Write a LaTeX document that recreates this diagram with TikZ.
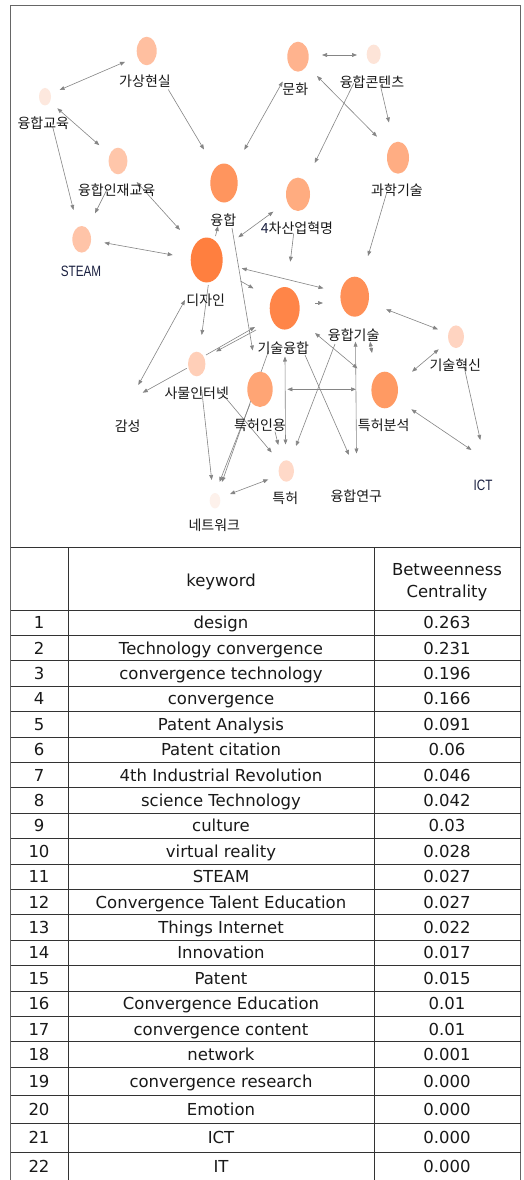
\documentclass[tikz,border=0pt]{standalone}
\usepackage{fontspec}
\usetikzlibrary{shapes.geometric,arrows.meta}
\newfontfamily\kr{Noto Sans CJK KR}
\newfontfamily\tb{DejaVu Sans}
\newfontfamily\lat{Liberation Sans}
\definecolor{edgec}{HTML}{858585}
\definecolor{gridc}{HTML}{333333}
\definecolor{navyt}{HTML}{1A2040}
\definecolor{cA}{HTML}{FF7F3F}
\definecolor{cB}{HTML}{FF8548}
\definecolor{cC}{HTML}{FF9057}
\definecolor{cD}{HTML}{FF955E}
\definecolor{cE}{HTML}{FF9A63}
\definecolor{cF}{HTML}{FFA575}
\definecolor{cG}{HTML}{FFAC80}
\definecolor{cH}{HTML}{FFAD83}
\definecolor{cI}{HTML}{FFB38E}
\definecolor{cJ}{HTML}{FFBFA0}
\definecolor{cK}{HTML}{FFC4A8}
\definecolor{cL}{HTML}{FFC6AA}
\definecolor{cM}{HTML}{FFCFB8}
\definecolor{cN}{HTML}{FFD4C1}
\definecolor{cO}{HTML}{FFD9C8}
\definecolor{cP}{HTML}{FDE8DE}
\definecolor{cQ}{HTML}{FDE4D8}
\definecolor{cR}{HTML}{FDF1EB}
\begin{document}
\begin{tikzpicture}[x=1pt,y=-1pt,
  nd/.style={ellipse,inner sep=0pt,draw=none},
  kl/.style={font=\kr\fontsize{14}{14}\selectfont,inner sep=0pt,text=black!90},
  nl/.style={font=\lat\fontsize{15}{15}\selectfont,inner sep=0pt,text=navyt},
  el/.style={draw=edgec,line width=0.6pt},
  two/.style={el,{Triangle[length=5pt,width=3.8pt]}-{Triangle[length=5pt,width=3.8pt]}},
  one/.style={el,-{Triangle[length=5pt,width=3.8pt]}},
  tt/.style={font=\tb\fontsize{16.5}{20}\selectfont,inner sep=0pt,text=black!90,anchor=base},
  gl/.style={draw=gridc,line width=0.8pt}]
\useasboundingbox (0,0) rectangle (523,1180);
\fill[white] (0,0) rectangle (523,1180);

% ---------- edge end points ----------
\coordinate (a1) at (125,61.8);   \coordinate (a2) at (59.5,90);
\coordinate (b1) at (168.3,89.5); \coordinate (b2) at (204,149.5);
\coordinate (c1) at (57.3,108.3); \coordinate (c2) at (99.3,145.2);
\coordinate (d1) at (52.7,127);   \coordinate (d2) at (73.5,210);
\coordinate (e1) at (106.7,190);  \coordinate (e2) at (95,213.3);
\coordinate (f1) at (136.7,182);  \coordinate (f2) at (180,230);
\coordinate (g1) at (104.3,242.7);\coordinate (g2) at (172.7,255);
\coordinate (h1) at (244.3,149.8);\coordinate (h2) at (282.7,81.5);
\coordinate (i1) at (322,55);     \coordinate (i2) at (357,55);
\coordinate (j1) at (317,76);     \coordinate (j2) at (377,136.7);
\coordinate (k1) at (353.7,83.3); \coordinate (k2) at (314.7,163);
\coordinate (l1) at (380.3,85);   \coordinate (l2) at (389,122.5);
\coordinate (m1) at (387,191.7);  \coordinate (m2) at (368,256);
\coordinate (n1) at (273.3,211.7);\coordinate (n2) at (238.3,237.3);
\coordinate (o1) at (293.7,233.3);\coordinate (o2) at (290.3,261.7);
\coordinate (p1) at (215.5,236);  \coordinate (p2) at (218,226);
\coordinate (q1) at (241.7,268.3);\coordinate (q2) at (323.5,288.3);
\coordinate (r1) at (240.5,281);  \coordinate (r2) at (253.5,288.5);
\coordinate (s1) at (232,228);    \coordinate (s2) at (252.7,350.5);
\coordinate (t1) at (208.3,285);  \coordinate (t2) at (201.7,335);
\coordinate (u1) at (185,300);    \coordinate (u2) at (138.3,385);
\coordinate (v1) at (186.7,368.3);\coordinate (v2) at (142.7,392.7);
\coordinate (w1) at (206,355);    \coordinate (w2) at (255,327);
\coordinate (w3) at (256,330);    \coordinate (w4) at (216,351.5);
\coordinate (x1) at (201.7,390);  \coordinate (x2) at (211.7,480);
\coordinate (y1) at (219,390);    \coordinate (y2) at (271.7,452.5);
\coordinate (z1) at (268.5,351);  \coordinate (z2) at (222,482);
\coordinate (z3) at (250,404);    \coordinate (z4) at (219.5,482);
\coordinate (aa1) at (230,494);   \coordinate (aa2) at (268.3,479.5);
\coordinate (bb1) at (285,356.5); \coordinate (bb2) at (285.5,444.5);
\coordinate (cc1) at (287.3,389.3);\coordinate (cc2) at (356,389.3);
\coordinate (dd1) at (355.5,341.7);\coordinate (dd2) at (356.5,453.5);
\coordinate (ee1) at (305,355);   \coordinate (ee2) at (349,455);
\coordinate (ff1) at (335,344);   \coordinate (ff2) at (296,446);
\coordinate (gg1) at (315,333);   \coordinate (gg2) at (357.5,368.5);
\coordinate (hh1) at (370,341.5); \coordinate (hh2) at (372,353);
\coordinate (ii1) at (315,303);   \coordinate (ii2) at (323,303);
\coordinate (jj1) at (386,309.3); \coordinate (jj2) at (438,329.3);
\coordinate (kk1) at (412,371.7); \coordinate (kk2) at (438.7,349.3);
\coordinate (ll1) at (463.7,365); \coordinate (ll2) at (480.3,440);
\coordinate (mm1) at (411.3,409.3);\coordinate (mm2) at (471.5,450);
\coordinate (nn1) at (275,431.7); \coordinate (nn2) at (278.3,445);

% ---------- edges ----------
\draw[two] (a1) -- (a2);
\draw[one] (b1) -- (b2);
\draw[two] (c1) -- (c2);
\draw[one] (d1) -- (d2);
\draw[one] (e1) -- (e2);
\draw[two] (f1) -- (f2);
\draw[two] (g1) -- (g2);
\draw[two] (h1) -- (h2);
\draw[two] (i1) -- (i2);
\draw[two] (j1) -- (j2);
\draw[one] (k1) -- (k2);
\draw[one] (l1) -- (l2);
\draw[one] (m1) -- (m2);
\draw[two] (n1) -- (n2);
\draw[one] (o1) -- (o2);
\draw[one] (p1) -- (p2);
\draw[two] (q1) -- (q2);
\draw[one] (r1) -- (r2);
\draw[one] (s1) -- (s2);
\draw[one] (t1) -- (t2);
\draw[two] (u1) -- (u2);
\draw[one] (v1) -- (v2);
\draw[one] (w1) -- (w2);
\draw[one] (w3) -- (w4);
\draw[one] (x1) -- (x2);
\draw[one] (y1) -- (y2);
\draw[one] (z1) -- (z2);
\draw[one] (z3) -- (z4);
\draw[two] (aa1) -- (aa2);
\draw[two] (bb1) -- (bb2);
\draw[two] (cc1) -- (cc2);
\draw[two] (dd1) -- (dd2);
\draw[one] (ee1) -- (ee2);
\draw[one] (ff1) -- (ff2);
\draw[two] (gg1) -- (gg2);
\draw[two] (hh1) -- (hh2);
\draw[one] (ii1) -- (ii2);
\draw[two] (jj1) -- (jj2);
\draw[two] (kk1) -- (kk2);
\draw[one] (ll1) -- (ll2);
\draw[two] (mm1) -- (mm2);
\draw[one] (nn1) -- (nn2);

% ---------- nodes ----------
\node[nd,fill=cJ,minimum width=20pt,minimum height=28.5pt] (vr) at (146.7,51) {};
\node[nd,fill=cP,minimum width=12pt,minimum height=17.4pt] (ce) at (45,96.7) {};
\node[nd,fill=cL,minimum width=18.7pt,minimum height=26.6pt] (cte) at (118,161) {};
\node[nd,fill=cK,minimum width=18.7pt,minimum height=26.6pt] (steam) at (81.7,239.3) {};
\node[nd,fill=cD,minimum width=27.4pt,minimum height=39pt] (conv) at (224,183) {};
\node[nd,fill=cA,minimum width=32pt,minimum height=45pt] (design) at (206.7,260) {};
\node[nd,fill=cI,minimum width=21.4pt,minimum height=30pt] (cult) at (298,56.7) {};
\node[nd,fill=cQ,minimum width=14pt,minimum height=19.4pt] (ccon) at (373.7,54.3) {};
\node[nd,fill=cH,minimum width=22pt,minimum height=32pt] (sci) at (398,157.7) {};
\node[nd,fill=cG,minimum width=24pt,minimum height=33.4pt] (ir4) at (298,194.3) {};
\node[nd,fill=cB,minimum width=30pt,minimum height=42.6pt] (tc) at (284.7,308.3) {};
\node[nd,fill=cC,minimum width=28.6pt,minimum height=40pt] (ct) at (354.7,296.7) {};
\node[nd,fill=cN,minimum width=16pt,minimum height=22.6pt] (inno) at (456,336.7) {};
\node[nd,fill=cM,minimum width=17.4pt,minimum height=24.6pt] (iot) at (196.7,364) {};
\node[nd,fill=cF,minimum width=25.4pt,minimum height=35.4pt] (pcit) at (260,389.3) {};
\node[nd,fill=cE,minimum width=26.6pt,minimum height=36.6pt] (pana) at (384.7,390) {};
\node[nd,minimum width=10pt,minimum height=10pt] (emo) at (130,395) {};
\node[nd,fill=cO,minimum width=15.4pt,minimum height=21.4pt] (pat) at (286.3,471) {};
\node[nd,minimum width=10pt,minimum height=10pt] (cres) at (354,465) {};
\node[nd,fill=cR,minimum width=10.6pt,minimum height=15.4pt] (net) at (215,500.7) {};
\node[nd,minimum width=10pt,minimum height=10pt] (ict) at (478,455) {};

% ---------- labels ----------
\node[kl] (vrL) at (145,81.7) {가상현실};
\node[kl] (ceL) at (43.3,123.3) {융합교육};
\node[kl] (cteL) at (116.7,190.7) {융합인재교육};
\node[nl] (steamL) at (81,271) {\scalebox{0.78}[1]{STEAM}};
\node[kl] (convL) at (223.3,220) {융합};
\node[kl] (designL) at (205.7,300) {디자인};
\node[kl] (cultL) at (295.3,89.3) {문화};
\node[kl] (cconL) at (372,81.7) {융합콘텐츠};
\node[kl] (sciL) at (397,190.7) {과학기술};
\node[kl] (ir4L) at (297,228.3) {\textcolor{navyt}{4}차산업혁명};
\node[kl] (tcL) at (283.3,348.3) {기술융합};
\node[kl] (ctL) at (353.7,335) {융합기술};
\node[kl] (innoL) at (455.3,365) {기술혁신};
\node[kl] (iotL) at (196.7,393.3) {사물인터넷};
\node[kl] (pcitL) at (260,425) {특허인용};
\node[kl] (panaL) at (383.7,425) {특허분석};
\node[kl] (emoL) at (127.7,426) {감성};
\node[kl] (patL) at (285.3,498.3) {특허};
\node[kl] (cresL) at (356.3,496.7) {융합연구};
\node[kl] (netL) at (214.3,525) {네트워크};
\node[nl] (ictL) at (483,485.7) {\scalebox{0.78}[1]{ICT}};

% ---------- frame and table ----------
\draw[draw=black!60,line width=0.9pt] (10.5,1180) -- (10.5,5) -- (520.5,5) -- (520.5,1180);
\draw[gl] (10.5,547) -- (520.5,547);
\draw[gl] (68,547) -- (68,1180);
\draw[gl] (374,547) -- (374,1180);
\draw[gl] (10.5,610) -- (520.5,610);
\foreach \k in {1,...,18} {\draw[gl] (10.5,610+25.4*\k) -- (520.5,610+25.4*\k);}
\foreach \yy in {1095.5,1123.8,1152.1} {\draw[gl] (10.5,\yy) -- (520.5,\yy);}

\node[tt] (hk) at (221,586) {keyword};
\node[tt] (hb1) at (447,575) {Betweenness};
\node[tt] (hb2) at (447,597) {Centrality};

\foreach \n/\yc/\kw/\v in {
 1/622.7/design/0.263,
 2/648.1/Technology convergence/0.231,
 3/673.5/convergence technology/0.196,
 4/698.9/convergence/0.166,
 5/724.3/Patent Analysis/0.091,
 6/749.7/Patent citation/0.06,
 7/775.1/4th Industrial Revolution/0.046,
 8/800.5/science Technology/0.042,
 9/825.9/culture/0.03,
 10/851.3/virtual reality/0.028,
 11/876.7/STEAM/0.027,
 12/902.1/Convergence Talent Education/0.027,
 13/927.5/Things Internet/0.022,
 14/952.9/Innovation/0.017,
 15/978.3/Patent/0.015,
 16/1003.7/Convergence Education/0.01,
 17/1029.1/convergence content/0.01,
 18/1054.5/network/0.001,
 19/1081.4/convergence research/0.000,
 20/1109.6/Emotion/0.000,
 21/1137.9/ICT/0.000,
 22/1166.3/IT/0.000}{
  \node[tt] (rn\n) at (39,\yc+6) {\n};
  \node[tt] (rk\n) at (221,\yc+6) {\kw};
  \node[tt] (rv\n) at (447,\yc+6) {\v};
}
\end{tikzpicture}
\end{document}
